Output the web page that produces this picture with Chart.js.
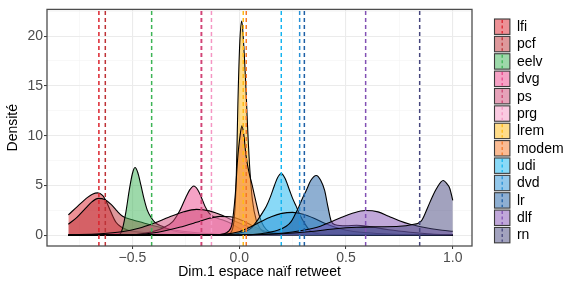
<!DOCTYPE html>
<html>
<head>
<meta charset="utf-8">
<script src="https://cdn.jsdelivr.net/npm/chart.js@4.4.0/dist/chart.umd.min.js"></script>
<style>
  html, body { margin: 0; padding: 0; background: #fff; }
  #wrap { width: 565px; height: 283px; }
</style>
</head>
<body>
<div id="wrap"><canvas id="densChart"></canvas></div>
<script>
const parties = ['lfi', 'pcf', 'eelv', 'dvg', 'ps', 'prg', 'lrem', 'modem', 'udi', 'dvd', 'lr', 'dlf', 'rn'];
const partyColors = [
  [220, 35, 45], [190, 50, 55], [60, 180, 85], [235, 70, 140], [205, 70, 115],
  [245, 150, 195], [255, 185, 20], [245, 120, 40], [20, 180, 240], [40, 145, 215],
  [30, 95, 165], [130, 80, 180], [70, 70, 125]
];
// mean of each group (dashed lines)
const meanValues = [-0.657, -0.627, -0.41, -0.178, -0.176, -0.13, 0.019, 0.033, 0.197, 0.283, 0.305, 0.592, 0.845];

const xTicks = [-0.75, -0.5, -0.25, 0, 0.25, 0.5, 0.75, 1.0];
const xMajor = [-0.5, 0, 0.5, 1.0];
const xLabels = ['\u22120.5', '0.0', '0.5', '1.0'];
const yTicks = [0, 2.5, 5, 7.5, 10, 12.5, 15, 17.5, 20, 22.5];
const yMajor = [0, 5, 10, 15, 20];

// density curves
const lfiX = [-0.8, -0.757, -0.71, -0.685, -0.663, -0.64, -0.62, -0.6, -0.577, -0.55, -0.52, -0.48, -0.42, -0.35, -0.25, -0.1, 1.0];
const lfiY = [2.05, 2.9, 3.8, 4.15, 4.25, 4.0, 3.3, 2.3, 1.3, 0.8, 0.5, 0.35, 0.22, 0.12, 0.05, 0.01, 0];
const pcfX = [-0.8, -0.76, -0.72, -0.69, -0.66, -0.63, -0.6, -0.575, -0.546, -0.5, -0.45, -0.4, -0.36, -0.3, -0.2, -0.1, 0.1, 1.0];
const pcfY = [1.1, 1.8, 2.7, 3.35, 3.7, 3.6, 3.1, 2.5, 1.9, 1.55, 1.25, 0.95, 0.75, 0.5, 0.25, 0.1, 0, 0];
const eelvX = [-0.8, -0.6, -0.56, -0.545, -0.53, -0.515, -0.5, -0.488, -0.475, -0.46, -0.445, -0.43, -0.41, -0.39, -0.36, -0.33, -0.29, -0.22, -0.12, 1.0];
const eelvY = [0, 0.02, 0.1, 0.8, 2.4, 4.5, 6.2, 6.8, 6.3, 5.0, 3.6, 2.5, 1.7, 1.2, 0.9, 0.6, 0.35, 0.15, 0.04, 0];
const dvgX = [-0.8, -0.5, -0.42, -0.36, -0.31, -0.28, -0.25, -0.23, -0.213, -0.195, -0.178, -0.16, -0.14, -0.115, -0.08, -0.04, 0.0, 0.04, 0.1, 0.2, 1.0];
const dvgY = [0, 0.05, 0.3, 0.7, 1.4, 2.4, 3.8, 4.6, 4.95, 4.6, 3.85, 2.9, 2.2, 1.8, 1.55, 1.2, 0.7, 0.35, 0.1, 0.02, 0];
const psX = [-0.8, -0.65, -0.55, -0.47, -0.4, -0.33, -0.26, -0.2, -0.14, -0.08, -0.03, 0.02, 0.07, 0.12, 0.2, 0.3, 0.5, 1.0];
const psY = [0.05, 0.15, 0.35, 0.7, 1.2, 1.8, 2.35, 2.6, 2.45, 2.0, 1.5, 1.05, 0.65, 0.35, 0.15, 0.06, 0.01, 0];
const prgX = [-0.8, -0.5, -0.38, -0.28, -0.2, -0.14, -0.09, -0.04, 0.0, 0.04, 0.08, 0.13, 0.2, 0.3, 1.0];
const prgY = [0, 0.05, 0.3, 0.8, 1.3, 1.7, 1.9, 1.85, 1.6, 1.2, 0.75, 0.35, 0.12, 0.03, 0];
const lremX = [-0.8, -0.06, -0.035, -0.022, -0.014, -0.006, 0.003, 0.012, 0.02, 0.03, 0.04, 0.05, 0.062, 0.08, 0.11, 0.16, 1.0];
const lremY = [0, 0.05, 0.4, 2.0, 5.5, 13.4, 19.5, 21.5, 19.5, 15.5, 10.5, 6.5, 3.5, 1.5, 0.4, 0.05, 0];
const modemX = [-0.8, -0.1, -0.05, -0.035, -0.028, -0.018, -0.008, 0.004, 0.013, 0.022, 0.032, 0.045, 0.061, 0.078, 0.095, 0.115, 0.14, 0.2, 1.0];
const modemY = [0, 0.05, 0.4, 1.0, 2.0, 4.2, 7.5, 10.0, 11.0, 10.0, 8.0, 6.4, 5.0, 3.4, 1.9, 0.9, 0.35, 0.08, 0];
const udiX = [-0.8, -0.05, 0.03, 0.06, 0.087, 0.11, 0.127, 0.145, 0.165, 0.18, 0.197, 0.215, 0.236, 0.25, 0.267, 0.285, 0.306, 0.33, 0.37, 0.45, 1.0];
const udiY = [0, 0.05, 0.4, 0.8, 1.55, 2.3, 2.9, 3.8, 5.0, 5.8, 6.2, 5.7, 4.5, 3.7, 2.9, 2.0, 1.2, 0.5, 0.15, 0.03, 0];
const dvdX = [-0.8, -0.1, 0.0, 0.05, 0.1, 0.15, 0.2, 0.25, 0.3, 0.35, 0.4, 0.45, 0.5, 0.6, 0.7, 0.85, 1.0];
const dvdY = [0, 0.05, 0.35, 0.8, 1.35, 1.85, 2.2, 2.3, 2.1, 1.7, 1.2, 0.8, 0.5, 0.25, 0.12, 0.04, 0.01];
const lrX = [-0.8, 0.0, 0.1, 0.18, 0.22, 0.244, 0.262, 0.28, 0.3, 0.314, 0.335, 0.361, 0.382, 0.4, 0.415, 0.431, 0.45, 0.5, 0.55, 0.6, 0.7, 0.8, 0.9, 1.0];
const lrY = [0, 0.02, 0.15, 0.5, 0.9, 1.4, 2.1, 2.9, 3.9, 4.5, 5.5, 6.0, 5.5, 4.5, 2.9, 1.4, 1.05, 0.95, 1.0, 0.9, 0.55, 0.3, 0.12, 0.05];
const dlfX = [-0.8, 0.0, 0.2, 0.3, 0.38, 0.43, 0.48, 0.53, 0.59, 0.65, 0.7, 0.75, 0.8, 0.85, 0.9, 0.95, 1.0];
const dlfY = [0, 0.03, 0.2, 0.5, 0.9, 1.35, 1.8, 2.2, 2.48, 2.35, 1.9, 1.45, 1.1, 0.85, 0.65, 0.5, 0.4];
const rnX = [-0.8, 0.0, 0.2, 0.35, 0.45, 0.55, 0.65, 0.75, 0.806, 0.853, 0.884, 0.905, 0.924, 0.955, 0.975, 0.986, 1.0];
const rnY = [0, 0.03, 0.15, 0.4, 0.65, 0.8, 0.85, 0.9, 1.06, 1.45, 2.87, 3.9, 4.7, 5.5, 5.1, 4.7, 3.5];

const curveX = [lfiX, pcfX, eelvX, dvgX, psX, prgX, lremX, modemX, udiX, dvdX, lrX, dlfX, rnX];
const curveY = [lfiY, pcfY, eelvY, dvgY, psY, prgY, lremY, modemY, udiY, dvdY, lrY, dlfY, rnY];

const X_MIN = -0.9, X_MAX = 1.09;
const Y_MIN = -1.08, Y_MAX = 22.68;
const FONT = '"Liberation Sans", Arial, Helvetica, sans-serif';

function rgba(c, a) { return 'rgba(' + c[0] + ',' + c[1] + ',' + c[2] + ',' + a + ')'; }
function inList(v, list) { return list.some(m => Math.abs(m - v) < 1e-9); }

const densitySets = parties.map((p, i) => ({
  label: p,
  data: curveX[i].map((x, j) => ({ x: x, y: curveY[i][j] })),
  borderColor: '#000',
  borderWidth: 1.1,
  backgroundColor: rgba(partyColors[i], 0.5),
  fill: 'origin',
  pointRadius: 0,
  cubicInterpolationMode: 'monotone',
  order: 100 - i
}));

const meanSets = parties.map((p, i) => ({
  label: p + ' mean',
  data: [{ x: meanValues[i], y: Y_MIN }, { x: meanValues[i], y: Y_MAX }],
  borderColor: rgba(partyColors[i], 1),
  borderWidth: 1.5,
  borderDash: [4, 3],
  fill: false,
  pointRadius: 0,
  order: 50 - i
}));

// panel border on top of the curves, like theme_bw
const panelBorder = {
  id: 'panelBorder',
  afterDatasetsDraw(chart) {
    const a = chart.chartArea, ctx = chart.ctx;
    ctx.save();
    ctx.strokeStyle = '#4d4d4d';
    ctx.lineWidth = 1.3;
    ctx.strokeRect(a.left, a.top, a.right - a.left, a.bottom - a.top);
    ctx.restore();
  }
};

// ggplot style legend: filled key with the dashed mean line inside
const keyLegend = {
  id: 'keyLegend',
  afterDraw(chart) {
    const ctx = chart.ctx;
    const bx = chart.chartArea.right + 22.5, size = 15.4, step = 17.37, top0 = 19;
    ctx.save();
    parties.forEach((p, i) => {
      const y = top0 + i * step;
      ctx.fillStyle = rgba(partyColors[i], 0.5);
      ctx.fillRect(bx, y, size, size);
      ctx.setLineDash([]);
      ctx.strokeStyle = '#3a3a3a';
      ctx.lineWidth = 1.1;
      ctx.strokeRect(bx, y, size, size);
      ctx.setLineDash([3, 2.5]);
      ctx.strokeStyle = rgba(partyColors[i], 1);
      ctx.lineWidth = 1.3;
      ctx.beginPath();
      ctx.moveTo(bx + size / 2, y + 1);
      ctx.lineTo(bx + size / 2, y + size - 1);
      ctx.stroke();
      ctx.setLineDash([]);
      ctx.fillStyle = '#000';
      ctx.font = '14px ' + FONT;
      ctx.textBaseline = 'middle';
      ctx.textAlign = 'left';
      ctx.fillText(p, bx + size + 7, y + size / 2 + 0.5);
    });
    ctx.restore();
  }
};

new Chart(document.getElementById('densChart'), {
  type: 'line',
  data: { datasets: densitySets.concat(meanSets) },
  options: {
    responsive: true,
    maintainAspectRatio: false,
    animation: false,
    layout: { padding: { left: 0, top: 8, right: 93, bottom: 0 } },
    plugins: { legend: { display: false }, tooltip: { enabled: false } },
    scales: {
      x: {
        type: 'linear', min: X_MIN, max: X_MAX,
        afterBuildTicks: s => { s.ticks = xTicks.map(v => ({ value: v })); },
        afterFit: s => { s.height = 37; },
        ticks: {
          autoSkip: false, maxRotation: 0, padding: 1, color: '#4d4d4d',
          font: { family: FONT, size: 14 },
          callback: v => { const k = xMajor.findIndex(m => Math.abs(m - v) < 1e-9); return k < 0 ? '' : xLabels[k]; }
        },
        grid: {
          color: c => inList(c.tick.value, xMajor) ? '#ebebeb' : '#f4f4f4',
          lineWidth: c => inList(c.tick.value, xMajor) ? 1.1 : 0.6,
          tickColor: c => inList(c.tick.value, xMajor) ? '#333' : 'rgba(0,0,0,0)',
          tickWidth: 1, tickLength: 3, drawTicks: true
        },
        border: { display: false },
        title: { display: true, text: 'Dim.1 espace naïf retweet', color: '#000', font: { family: FONT, size: 14 }, padding: { top: 0, bottom: 2 } }
      },
      y: {
        type: 'linear', min: Y_MIN, max: Y_MAX,
        afterBuildTicks: s => { s.ticks = yTicks.map(v => ({ value: v })); },
        afterFit: s => { s.width = 47; },
        ticks: {
          autoSkip: false, padding: 1, color: '#4d4d4d',
          font: { family: FONT, size: 14 },
          callback: v => inList(v, yMajor) ? String(v) : ''
        },
        grid: {
          color: c => inList(c.tick.value, yMajor) ? '#ebebeb' : '#f4f4f4',
          lineWidth: c => inList(c.tick.value, yMajor) ? 1.1 : 0.6,
          tickColor: c => inList(c.tick.value, yMajor) ? '#333' : 'rgba(0,0,0,0)',
          tickWidth: 1, tickLength: 3, drawTicks: true
        },
        border: { display: false },
        title: { display: true, text: 'Densité', color: '#000', font: { family: FONT, size: 14 }, padding: { top: 5, bottom: 0 } }
      }
    }
  },
  plugins: [panelBorder, keyLegend]
});
</script>
</body>
</html>
